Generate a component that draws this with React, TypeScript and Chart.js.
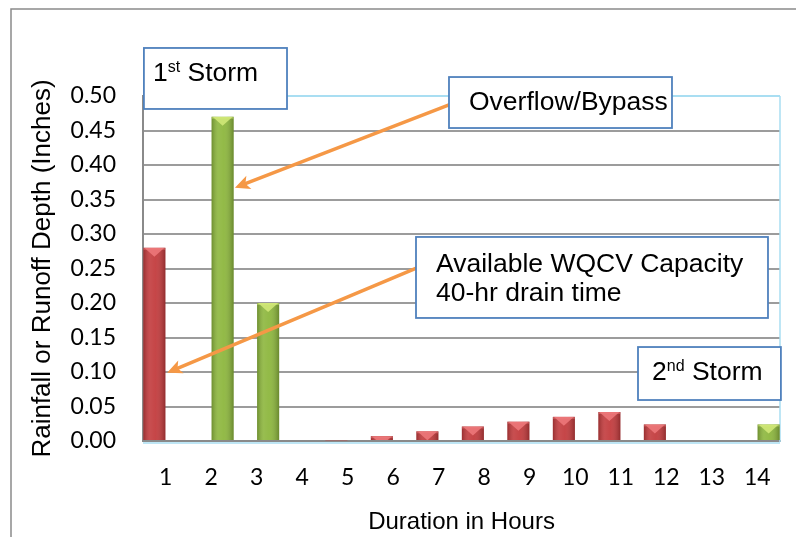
import React, { useEffect, useRef } from "react";
import { Chart, registerables } from "chart.js";

Chart.register(...registerables);

// ---------- data ----------
const hours = ["1", "2", "3", "4", "5", "6", "7", "8", "9", "10", "11", "12", "13", "14"];
const capturedRunoff = [0.28, null, null, null, 0.001, 0.007, 0.014, 0.021, 0.028, 0.035, 0.042, 0.024, null, null];
const overflowRunoff = [null, 0.47, 0.2, null, null, null, null, null, null, null, null, null, null, 0.024];
const yTickValues = [0, 0.05, 0.1, 0.15, 0.2, 0.25, 0.3, 0.35, 0.4, 0.45, 0.5];

const yTitle = "Rainfall or Runoff Depth (Inches)";
const xTitle = "Duration in Hours";

// annotation boxes, anchored in data units (x: category index, y: value)
const noteBoxes = [
  { x0: -0.48, x1: 2.665, y0: 0.5696, y1: 0.4812, padX: 9, firstDy: -4.5, lines: [[{ t: "1" }, { t: "st", sup: true }, { t: " Storm" }]] },
  { x0: 6.225, x1: 11.126, y0: 0.5275, y1: 0.4536, padX: 20, firstDy: 0.5, lines: [[{ t: "Overflow/Bypass" }]] },
  { x0: 5.5, x1: 13.236, y0: 0.2957, y1: 0.1783, padX: 20, firstDy: -12.5, lines: [[{ t: "Available WQCV Capacity" }], [{ t: "40-hr drain time" }]] },
  { x0: 10.379, x1: 13.52, y0: 0.1362, y1: 0.0594, padX: 14, firstDy: -0.5, lines: [[{ t: "2" }, { t: "nd", sup: true }, { t: " Storm" }]] },
];
const arrows = [
  { from: [6.225, 0.487], to: [1.52, 0.367] },
  { from: [5.52, 0.251], to: [0.03, 0.099] },
];

const RED = "#c23a3c";
const GREEN = "#8cb63c";
const RED_CAP = "#ee7a7c";
const GREEN_CAP = "#d3ea7a";

const decorPlugin = {
  id: "decor",
  beforeDraw(chart: any) {
    const ctx = chart.ctx;
    ctx.save();
    ctx.strokeStyle = "#8a8a8a";
    ctx.lineWidth = 1.5;
    ctx.beginPath();
    ctx.moveTo(11, chart.height);
    ctx.lineTo(11, 9);
    ctx.lineTo(chart.width, 9);
    ctx.stroke();
    ctx.restore();
  },
  beforeDatasetsDraw(chart: any) {
    const { ctx, chartArea } = chart;
    ctx.save();
    ctx.strokeStyle = "#a9def2";
    ctx.lineWidth = 1.5;
    ctx.beginPath();
    ctx.moveTo(chartArea.right, chartArea.top);
    ctx.lineTo(chartArea.right, chartArea.bottom + 1);
    ctx.stroke();
    ctx.beginPath();
    ctx.moveTo(chartArea.left, chartArea.bottom + 2);
    ctx.lineTo(chartArea.right, chartArea.bottom + 2);
    ctx.stroke();
    ctx.restore();
  },
  afterDatasetsDraw(chart: any) {
    const ctx = chart.ctx;
    chart.data.datasets.forEach((ds: any, di: number) => {
      const meta = chart.getDatasetMeta(di);
      const cap = di === 0 ? RED_CAP : GREEN_CAP;
      meta.data.forEach((el: any, i: number) => {
        if (ds.data[i] == null) return;
        const { x, y, base, width } = el.getProps(["x", "y", "base", "width"], true);
        const l = x - width / 2;
        const r = x + width / 2;
        const h = base - y;
        if (h <= 0) return;
        ctx.save();
        const g = ctx.createLinearGradient(l, 0, r, 0);
        g.addColorStop(0, "rgba(0,0,0,0.22)");
        g.addColorStop(0.3, "rgba(255,255,255,0.10)");
        g.addColorStop(0.55, "rgba(255,255,255,0.06)");
        g.addColorStop(1, "rgba(0,0,0,0.25)");
        ctx.fillStyle = g;
        ctx.fillRect(l, y, width, h);
        // top cap
        ctx.beginPath();
        ctx.rect(l, y, width, h);
        ctx.clip();
        ctx.fillStyle = cap;
        ctx.globalAlpha = 0.85;
        ctx.beginPath();
        ctx.moveTo(l + 1, y);
        ctx.lineTo(r - 1, y);
        ctx.lineTo(x, y + 9);
        ctx.closePath();
        ctx.fill();
        ctx.globalAlpha = 0.5;
        ctx.fillRect(l, y, width, 2);
        ctx.restore();
      });
    });
  },
  afterDraw(chart: any) {
    const { ctx, scales } = chart;
    const px = (v: number) => scales.x.getPixelForValue(v);
    const py = (v: number) => scales.y.getPixelForValue(v);
    ctx.save();
    // arrows
    arrows.forEach((a) => {
      const x1 = px(a.from[0]);
      const y1 = py(a.from[1]);
      const x2 = px(a.to[0]);
      const y2 = py(a.to[1]);
      const ang = Math.atan2(y2 - y1, x2 - x1);
      const headLen = 15;
      const headW = 7;
      const bx = x2 - Math.cos(ang) * headLen * 0.75;
      const by = y2 - Math.sin(ang) * headLen * 0.75;
      ctx.strokeStyle = "#f59846";
      ctx.lineWidth = 3.5;
      ctx.lineCap = "round";
      ctx.beginPath();
      ctx.moveTo(x1, y1);
      ctx.lineTo(bx, by);
      ctx.stroke();
      ctx.fillStyle = "#f59846";
      ctx.beginPath();
      ctx.moveTo(x2, y2);
      const hx = x2 - Math.cos(ang) * headLen;
      const hy = y2 - Math.sin(ang) * headLen;
      ctx.lineTo(hx + Math.cos(ang + Math.PI / 2) * headW, hy + Math.sin(ang + Math.PI / 2) * headW);
      ctx.lineTo(bx, by);
      ctx.lineTo(hx - Math.cos(ang + Math.PI / 2) * headW, hy - Math.sin(ang + Math.PI / 2) * headW);
      ctx.closePath();
      ctx.fill();
    });
    // boxes
    noteBoxes.forEach((b) => {
      const l = px(b.x0);
      const r = px(b.x1);
      const t = py(b.y0);
      const bt = py(b.y1);
      ctx.fillStyle = "#ffffff";
      ctx.fillRect(l, t, r - l, bt - t);
      ctx.strokeStyle = "#4f81bd";
      ctx.lineWidth = 1.8;
      ctx.strokeRect(l, t, r - l, bt - t);
      ctx.fillStyle = "#000";
      ctx.textBaseline = "middle";
      ctx.textAlign = "left";
      const cy = (t + bt) / 2 + b.firstDy;
      b.lines.forEach((line: any[], li: number) => {
        let cx = l + b.padX;
        const ly = cy + li * 29;
        line.forEach((seg: any) => {
          if (seg.sup) {
            ctx.font = "16px 'Liberation Sans', Arial, sans-serif";
            ctx.fillText(seg.t, cx, ly - 6);
          } else {
            ctx.font = "26.5px 'Liberation Sans', Arial, sans-serif";
            ctx.fillText(seg.t, cx, ly);
          }
          cx += ctx.measureText(seg.t).width;
        });
      });
    });
    ctx.restore();
  },
};

export default function App() {
  const canvasRef = useRef<HTMLCanvasElement | null>(null);

  useEffect(() => {
    const canvas = canvasRef.current;
    if (!canvas) return;
    const chart = new Chart(canvas, {
      type: "bar",
      data: {
        labels: hours,
        datasets: [
          {
            label: "Captured runoff",
            data: capturedRunoff as any,
            backgroundColor: RED,
            borderWidth: 0,
            categoryPercentage: 1,
            barPercentage: 0.97,
          },
          {
            label: "Overflow/Bypass",
            data: overflowRunoff as any,
            backgroundColor: GREEN,
            borderWidth: 0,
            categoryPercentage: 1,
            barPercentage: 0.97,
          },
        ],
      },
      options: {
        responsive: false,
        animation: false,
        devicePixelRatio: 1,
        layout: { padding: { top: 96, right: 16, left: 0, bottom: 0 } },
        plugins: {
          legend: { display: false },
          tooltip: { enabled: false },
        },
        scales: {
          x: {
            grid: { display: false, drawTicks: false },
            border: { display: true, color: "#8a8a8a", width: 2 },
            ticks: {
              color: "#000",
              padding: 23,
              font: { family: "Lato, 'Open Sans', sans-serif", size: 23 },
            },
            title: {
              display: true,
              text: xTitle,
              color: "#000",
              font: { family: "'Liberation Sans', Arial, sans-serif", size: 24 },
              padding: { top: 0, bottom: 0 },
            },
            afterFit: (s: any) => {
              s.height = 96;
            },
          },
          y: {
            min: 0,
            max: 0.5,
            afterBuildTicks: (s: any) => {
              s.ticks = yTickValues.map((v) => ({ value: v }));
            },
            ticks: {
              color: "#000",
              padding: 27,
              font: { family: "Lato, 'Open Sans', sans-serif", size: 23 },
              callback: (v: any) => Number(v).toFixed(2),
            },
            grid: {
              drawTicks: false,
              lineWidth: 2,
              color: (c: any) => (c.tick && c.tick.value >= 0.5 ? "#a9def2" : c.tick && c.tick.value === 0 ? "#8a8a8a" : "#9c9c9c"),
            },
            border: { display: true, color: "#8a8a8a", width: 2 },
            title: {
              display: true,
              text: yTitle,
              color: "#000",
              font: { family: "'Liberation Sans', Arial, sans-serif", size: 26 },
              padding: { top: 27, bottom: 0 },
            },
            afterFit: (s: any) => {
              s.width = 143;
            },
          },
        },
      },
      plugins: [decorPlugin],
    });
    return () => chart.destroy();
  }, []);

  return (
    <div style={{ position: "absolute", left: 0, top: 0, width: 796, height: 537, background: "#fff" }}>
      <canvas ref={canvasRef} width={796} height={537} style={{ display: "block" }} />
    </div>
  );
}
